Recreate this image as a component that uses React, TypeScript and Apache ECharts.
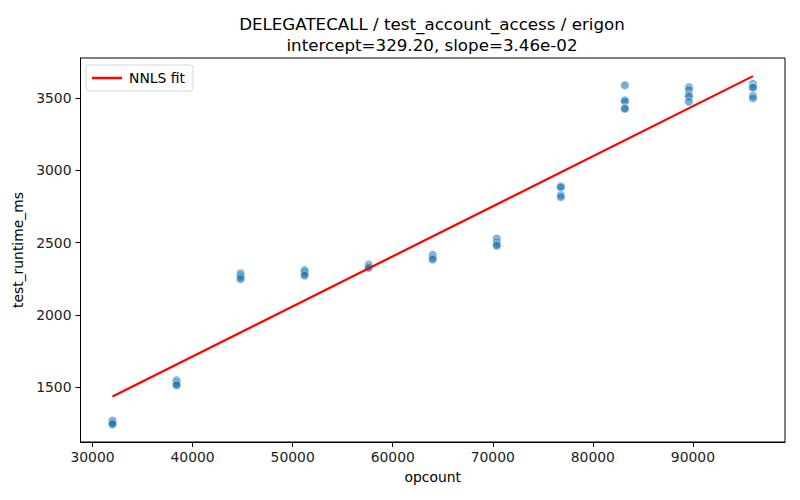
import React, { useEffect, useRef } from "react";
import * as echarts from "echarts";

const TITLE_LINE_1 = "DELEGATECALL / test_account_access / erigon";
const INTERCEPT = 329.2;
const SLOPE = 3.46e-2;
const TITLE_LINE_2 = `intercept=${INTERCEPT.toFixed(2)}, slope=${SLOPE.toExponential(2).replace("e-", "e-0")}`;

const OPCOUNTS = [32000, 38400, 44800, 51200, 57600, 64000, 70400, 76800, 83200, 89600, 96000];
const RUNTIMES: number[][] = [
  [1270, 1262, 1250, 1245],
  [1548, 1535, 1520, 1515],
  [2288, 2275, 2262, 2248],
  [2310, 2300, 2285, 2272],
  [2348, 2335, 2325],
  [2415, 2395, 2383],
  [2528, 2505, 2488, 2478],
  [2890, 2882, 2828, 2815],
  [3588, 3484, 3476, 3430, 3425],
  [3574, 3555, 3521, 3509, 3474],
  [3597, 3578, 3570, 3514, 3498],
];
const FIT_X = [32000, 96000];
const X_TICKS = [30000, 40000, 50000, 60000, 70000, 80000, 90000];
const Y_TICKS = [1500, 2000, 2500, 3000, 3500];

const FONT = "DejaVu Sans";

export default function App() {
  const ref = useRef<HTMLDivElement>(null);
  useEffect(() => {
    if (!ref.current) return;
    const chart = echarts.init(ref.current, null, { renderer: "svg" });
    const points: number[][] = [];
    OPCOUNTS.forEach((x, i) => RUNTIMES[i].forEach((y) => points.push([x, y])));
    const fit = FIT_X.map((x) => [x, INTERCEPT + SLOPE * x]);
    chart.setOption({
      animation: false,
      backgroundColor: "#ffffff",
      textStyle: { fontFamily: FONT },
      title: {
        text: TITLE_LINE_1 + "\n" + TITLE_LINE_2,
        left: 427,
        textAlign: "center",
        top: 9,
        padding: 5,
        textStyle: {
          fontFamily: FONT,
          fontSize: 16.7,
          fontWeight: "normal",
          color: "#000",
          lineHeight: 20.5,
        },
      },
      legend: {
        data: [{ name: "NNLS fit", icon: "rect" }],
        left: 86,
        top: 65,
        orient: "vertical",
        padding: [6, 8, 6, 6],
        itemWidth: 30,
        itemHeight: 2.5,
        itemGap: 0,
        backgroundColor: "rgba(255,255,255,0.8)",
        borderColor: "#d6d6d6",
        borderWidth: 1,
        borderRadius: 3,
        textStyle: { fontFamily: FONT, fontSize: 13.9, color: "#000", padding: [0, 0, 0, 2] },
      },
      grid: {
        left: 80.5,
        right: 15,
        top: 58,
        bottom: 58,
        show: true,
        borderColor: "#000",
        borderWidth: 1,
        backgroundColor: "transparent",
      },
      xAxis: {
        type: "value",
        min: 28800,
        max: 99200,
        name: "opcount",
        nameLocation: "middle",
        nameGap: 28,
        nameTextStyle: { fontFamily: FONT, fontSize: 13.9, color: "#000" },
        axisLine: { show: true, onZero: false, lineStyle: { color: "#000", width: 1 } },
        axisTick: { show: true, length: 5, lineStyle: { color: "#000" }, customValues: X_TICKS },
        axisLabel: { fontFamily: FONT, fontSize: 13.9, color: "#222", margin: 8, customValues: X_TICKS, formatter: (v: number) => String(v) },
        splitLine: { show: false },
      },
      yAxis: {
        type: "value",
        min: 1122,
        max: 3776,
        name: "test_runtime_ms",
        nameLocation: "middle",
        nameGap: 45,
        nameRotate: 90,
        nameTextStyle: { fontFamily: FONT, fontSize: 13.9, color: "#000" },
        axisLine: { show: true, onZero: false, lineStyle: { color: "#000", width: 1 } },
        axisTick: { show: true, length: 5, lineStyle: { color: "#000" }, customValues: Y_TICKS },
        axisLabel: { fontFamily: FONT, fontSize: 13.9, color: "#222", margin: 9, customValues: Y_TICKS, formatter: (v: number) => String(v) },
        splitLine: { show: false },
      },
      series: [
        {
          name: "points",
          type: "scatter",
          data: points,
          symbolSize: 8.5,
          itemStyle: {
            color: "rgba(31,119,180,0.75)",
            borderColor: "rgba(255,255,255,0.8)",
            borderWidth: 0.8,
          },
          emphasis: { disabled: true },
          z: 2,
        },
        {
          name: "NNLS fit",
          type: "line",
          data: fit,
          symbol: "none",
          lineStyle: { color: "#ff0000", width: 2.2 },
          itemStyle: { color: "#ff0000" },
          z: 3,
        },
      ],
    });
    return () => chart.dispose();
  }, []);
  return <div ref={ref} style={{ position: "fixed", left: 0, top: 0, width: 800, height: 500 }} />;
}
